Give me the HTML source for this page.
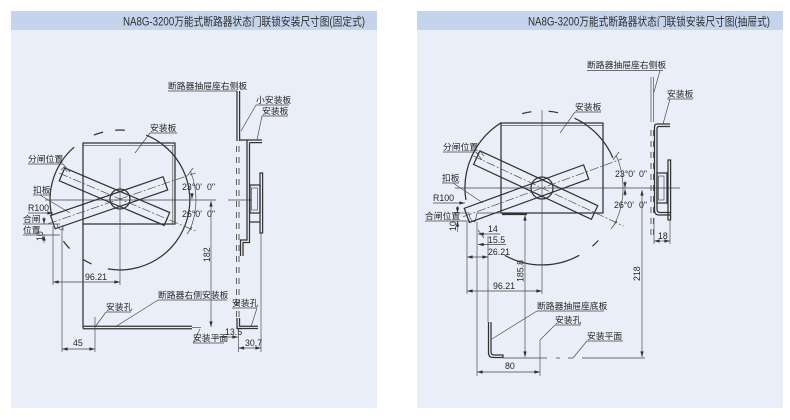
<!DOCTYPE html>
<html><head><meta charset="utf-8">
<style>
html,body{margin:0;padding:0;background:#fff;}
svg{display:block}
.l{stroke:#333;stroke-width:1.25;fill:none}
.b{stroke:#333;stroke-width:1.9;fill:none}
.t{stroke:#444;stroke-width:0.65;fill:none}
.d{stroke:#444;stroke-width:0.65;fill:none;stroke-dasharray:9 2 2 2}
.ds{stroke:#444;stroke-width:0.85;fill:none;stroke-dasharray:6 5}
text{font-family:"Liberation Sans","Noto Sans CJK SC","WenQuanYi Zen Hei",sans-serif;fill:#262626;font-size:8.8px}
.ti{font-size:11.5px;fill:#2e2e2e}
</style></head><body>
<svg width="790" height="420" viewBox="0 0 790 420" xmlns="http://www.w3.org/2000/svg">
<defs><marker id="a" viewBox="0 0 10 6" refX="10" refY="3" markerWidth="6" markerHeight="3.4" markerUnits="userSpaceOnUse" orient="auto-start-reverse"><path d="M0,0L10,3L0,6z" fill="#333"/></marker></defs>

<!-- ================= LEFT PANEL ================= -->
<rect x="11" y="11" width="366" height="397" fill="#e9eef8"/>
<rect x="11" y="11" width="366" height="19" fill="#c4d4ec"/>
<text class="ti" x="123" y="25.5" textLength="242" lengthAdjust="spacingAndGlyphs">NA8G-3200万能式断路器状态门联锁安装尺寸图(固定式)</text>

<!-- square mounting plate -->
<rect x="83" y="143" width="92" height="81" class="l"/>
<line x1="83" y1="145.4" x2="175" y2="145.4" class="t"/>
<line x1="172.8" y1="145.4" x2="172.8" y2="224" class="t"/>
<line x1="83" y1="224" x2="83" y2="328.5" class="l"/>
<line x1="83" y1="326.3" x2="192" y2="326.3" class="l"/>
<line x1="83" y1="328.7" x2="192" y2="328.7" class="l"/>
<line x1="192" y1="327.5" x2="201" y2="327.5" class="t"/>

<!-- big circle arcs -->
<path class="l" d="M146.2,135.1 A70,70 0 0 1 107.8,268.9"/>
<path class="l" d="M51.8,215.7 A70,70 0 0 1 74.1,147.2"/>
<path class="l" d="M93.8,135.1 A70,70 0 0 1 103.1,132.1"/>
<path class="l" d="M115.1,130.2 A70,70 0 0 1 124.9,130.2"/>
<path class="l" d="M69.6,248.6 A70,70 0 0 1 63.4,241.1"/>
<path class="l" d="M91.5,263.9 A70,70 0 0 1 82.9,259.4"/>

<!-- angle dimension arc -->
<path class="t" d="M190.5,171.5 A76,76 0 0 1 189.4,230.9"/>
<line x1="188" y1="175" x2="193" y2="168" class="t"/>
<line x1="187" y1="234" x2="192" y2="227" class="t"/>
<line x1="192" y1="193" x2="192" y2="199" class="t" marker-end="url(#a)"/>

<!-- center lines -->
<line x1="45" y1="200" x2="216" y2="200" class="t"/>
<line x1="228" y1="200" x2="252" y2="200" class="t"/>
<line x1="120" y1="158" x2="120" y2="285" class="t"/>

<!-- blades -->
<g transform="translate(120,199) rotate(23)">
  <rect x="-63" y="-7" width="114" height="14" class="l"/>
  <line x1="-66" y1="0" x2="82" y2="0" class="d"/>
</g>
<g transform="translate(120,199) rotate(-19)">
  <rect x="-71" y="-7" width="119" height="14" class="l"/>
  <line x1="-76" y1="0" x2="80" y2="0" class="d"/>
</g>
<circle cx="120" cy="199" r="10" class="l"/>
<path class="t" d="M57,224 q1,6 6,6 l0,-5"/>
<path class="t" d="M61,170 l3,-3 l3,5"/>

<!-- left labels -->
<text x="28" y="162">分闸位置</text>
<line x1="28" y1="164" x2="63" y2="164" class="t"/>
<line x1="63" y1="164" x2="70" y2="172" class="t"/>
<text x="33" y="193">扣板</text>
<line x1="33" y1="195" x2="51" y2="195" class="t"/>
<line x1="40" y1="195" x2="70" y2="213" class="t"/>
<text x="28" y="211">R100</text>
<line x1="28" y1="213" x2="53" y2="213" class="t" marker-end="url(#a)"/>
<text x="23" y="222">合闸</text>
<text x="23" y="233">位置</text>
<line x1="23" y1="224" x2="60" y2="224" class="t"/>
<line x1="23" y1="235" x2="60" y2="235" class="t"/>
<line x1="44" y1="217" x2="44" y2="224" class="t" marker-end="url(#a)"/>
<line x1="44" y1="243" x2="44" y2="235" class="t" marker-end="url(#a)"/>
<text transform="translate(43,241) rotate(-90)">10</text>

<!-- square label -->
<text x="150" y="131">安装板</text>
<line x1="150" y1="133" x2="177" y2="133" class="t"/>
<line x1="150" y1="133" x2="135" y2="153" class="t"/>

<!-- lower dims left -->
<line x1="53" y1="226" x2="53" y2="285" class="t"/>
<line x1="62" y1="228" x2="62" y2="352" class="t"/>
<line x1="53" y1="282" x2="120" y2="282" class="t" marker-start="url(#a)" marker-end="url(#a)"/>
<text x="85" y="280">96.21</text>
<line x1="95" y1="317" x2="95" y2="352" class="t"/>
<line x1="62" y1="349" x2="95" y2="349" class="t" marker-start="url(#a)" marker-end="url(#a)"/>
<text x="73" y="346">45</text>
<text x="106" y="310">安装孔</text>
<line x1="106" y1="312" x2="131" y2="312" class="t"/>
<line x1="106" y1="312" x2="95" y2="327" class="t"/>
<text x="158" y="298">断路器右侧安装板</text>
<line x1="158" y1="300" x2="227" y2="300" class="t"/>
<line x1="158" y1="300" x2="115" y2="327" class="t"/>
<text x="193" y="341">安装平面</text>
<line x1="193" y1="343" x2="224" y2="343" class="t"/>
<line x1="193" y1="343" x2="200" y2="329" class="t"/>

<!-- 182 -->
<line x1="211" y1="201" x2="211" y2="327" class="t" marker-start="url(#a)" marker-end="url(#a)"/>
<text transform="translate(210,262) rotate(-90)">182</text>

<!-- angle labels -->
<text x="182" y="190">23°0'</text><text x="207" y="190">0"</text>
<text x="182" y="217">26°0'</text><text x="207" y="217">0"</text>

<!-- side view left -->
<text x="168" y="89">断路器抽屉座右侧板</text>
<line x1="168" y1="91" x2="237" y2="91" class="t"/>
<line x1="237" y1="91" x2="237" y2="141" class="l"/>
<line x1="239.6" y1="91" x2="239.6" y2="141" class="l"/>
<line x1="236.5" y1="146" x2="236.5" y2="318" class="ds"/>
<line x1="239" y1="146" x2="239" y2="318" class="ds"/>
<path class="l" d="M240,140 H262 M249.5,142.6 H262"/>
<path class="l" d="M247,140 V240 H240.5 V256 M249.5,142.6 V242.5 H243 V256"/>
<rect x="250" y="185" width="10" height="28" class="l"/>
<rect x="251.5" y="188" width="6" height="22" class="t"/>
<rect x="260" y="173" width="2.6" height="60" class="l"/>
<line x1="249.5" y1="222" x2="260" y2="222" class="l"/>
<text x="256" y="103">小安装板</text>
<line x1="256" y1="105" x2="289" y2="105" class="t"/>
<line x1="256" y1="105" x2="241" y2="131" class="t"/>
<text x="262" y="114">安装板</text>
<line x1="262" y1="116" x2="288" y2="116" class="t"/>
<line x1="262" y1="116" x2="257" y2="140" class="t"/>
<!-- bottom L bracket -->
<path class="l" d="M237,318 V328.5 H258 M239.5,318 V326.2 H258"/>
<text x="232" y="306">安装孔</text>
<line x1="232" y1="308" x2="257" y2="308" class="t"/>
<line x1="257" y1="308" x2="251" y2="327" class="t"/>
<text x="225" y="335">13.5</text>
<line x1="214" y1="337" x2="238" y2="337" class="t" marker-end="url(#a)"/>
<line x1="238.5" y1="330" x2="238.5" y2="352" class="t"/>
<line x1="261" y1="233" x2="261" y2="352" class="t"/>
<line x1="238.5" y1="348" x2="261" y2="348" class="t" marker-start="url(#a)" marker-end="url(#a)"/>
<text x="245" y="346">30.7</text>

<!-- ================= RIGHT PANEL ================= -->
<rect x="417" y="11" width="366" height="397" fill="#e9eef8"/>
<rect x="417" y="11" width="366" height="19" fill="#c4d4ec"/>
<text class="ti" x="528" y="25.5" textLength="242" lengthAdjust="spacingAndGlyphs">NA8G-3200万能式断路器状态门联锁安装尺寸图(抽屉式)</text>

<rect x="501" y="123" width="102" height="90" class="l"/>
<line x1="501" y1="125.4" x2="603" y2="125.4" class="t"/>
<line x1="502" y1="214.2" x2="527" y2="214.2" class="b"/>
<line x1="477" y1="213" x2="502" y2="213" class="t"/>

<!-- big arcs -->
<path class="l" d="M574.5,118.2 A77,77 0 0 1 612.9,157.9"/>
<path class="l" d="M598.3,240.5 A77,77 0 0 1 592.5,246.1"/>
<path class="l" d="M579.3,255.3 A77,77 0 0 1 504.7,255.3"/>
<path class="l" d="M465.9,200 A77,77 0 0 1 501.2,122.7"/>
<path class="l" d="M522.1,113.6 A77,77 0 0 1 531.3,111.7"/>
<path class="l" d="M548.7,111.3 A77,77 0 0 1 558,112.7"/>
<path class="t" d="M616,155.1 A81,81 0 0 1 614.2,224.8"/>
<line x1="613" y1="160" x2="619" y2="152" class="t"/>
<line x1="611" y1="229" x2="617" y2="221" class="t"/>
<line x1="625" y1="181" x2="625" y2="188" class="t" marker-end="url(#a)"/>
<line x1="625" y1="196" x2="625" y2="189" class="t" marker-end="url(#a)"/>

<line x1="455" y1="188" x2="680" y2="188" class="t"/>
<line x1="542" y1="110" x2="542" y2="294" class="t"/>

<g transform="translate(542,188) rotate(25)">
  <rect x="-72" y="-7.5" width="130" height="15" class="l"/>
  <line x1="-76" y1="0" x2="90" y2="0" class="d"/>
</g>
<g transform="translate(542,188) rotate(-20)">
  <rect x="-80" y="-7.5" width="127" height="15" class="l"/>
  <line x1="-84" y1="0" x2="85" y2="0" class="d"/>
</g>
<circle cx="542" cy="188" r="11" class="l"/>
<path class="t" d="M469,214 q1,7 6,8 l2,-9"/>
<path class="t" d="M477,154 l3,-3 l4,5"/>

<text x="575" y="110">安装板</text>
<line x1="575" y1="112" x2="601" y2="112" class="t"/>
<line x1="575" y1="112" x2="560" y2="133" class="t"/>

<text x="443" y="150">分闸位置</text>
<line x1="443" y1="152" x2="476" y2="152" class="t"/>
<line x1="476" y1="152" x2="482" y2="160" class="t"/>
<text x="442" y="181">扣板</text>
<line x1="442" y1="183" x2="459" y2="183" class="t"/>
<line x1="453" y1="183" x2="483" y2="203" class="t"/>
<text x="433" y="201">R100</text>
<line x1="433" y1="203" x2="465" y2="203" class="t" marker-end="url(#a)"/>
<text x="425" y="219">合闸位置</text>
<line x1="425" y1="221" x2="470" y2="221" class="t"/>
<line x1="455" y1="213" x2="470" y2="213" class="t"/>
<line x1="457.5" y1="206" x2="457.5" y2="213" class="t" marker-end="url(#a)"/>
<line x1="457.5" y1="232" x2="457.5" y2="221" class="t" marker-end="url(#a)"/>
<text transform="translate(456,231) rotate(-90)">10</text>

<!-- lower-left dims -->
<line x1="467" y1="222" x2="467" y2="294" class="t"/>
<line x1="477" y1="222" x2="477" y2="376" class="t"/>
<line x1="488" y1="236" x2="488" y2="322" class="t"/>
<line x1="483" y1="234" x2="500" y2="234" class="t"/>
<line x1="485" y1="234" x2="478" y2="234" class="t" marker-end="url(#a)"/>
<line x1="478" y1="230" x2="484" y2="238" class="t"/>
<text x="488" y="232">14</text>
<line x1="483" y1="244.5" x2="506" y2="244.5" class="t"/>
<line x1="485" y1="244.5" x2="478" y2="244.5" class="t" marker-end="url(#a)"/>
<text x="488" y="243">15.5</text>
<line x1="467" y1="257" x2="488" y2="257" class="t" marker-start="url(#a)" marker-end="url(#a)"/>
<text x="488" y="255">26.21</text>
<line x1="467" y1="291" x2="542" y2="291" class="t" marker-start="url(#a)" marker-end="url(#a)"/>
<text x="493" y="289">96.21</text>
<line x1="477" y1="372" x2="540" y2="372" class="t" marker-start="url(#a)" marker-end="url(#a)"/>
<text x="505" y="369">80</text>

<line x1="525" y1="215" x2="525" y2="357" class="t" marker-start="url(#a)" marker-end="url(#a)"/>
<text transform="translate(523.5,282) rotate(-90)">185.8</text>

<!-- L bracket -->
<path class="l" d="M488.5,322 V353 Q488.5,357.5 493,357.5 H503 V355 H494 Q491,355 491,352 V322"/>

<text x="537" y="309">断路器抽屉座底板</text>
<line x1="537" y1="311" x2="604" y2="311" class="t"/>
<line x1="537" y1="311" x2="492" y2="339" class="t"/>
<text x="555" y="323">安装孔</text>
<line x1="555" y1="325" x2="581" y2="325" class="t"/>
<line x1="555" y1="325" x2="540" y2="340" class="t"/>
<line x1="540" y1="340" x2="540" y2="376" class="t"/>
<text x="587" y="339">安装平面</text>
<line x1="587" y1="341" x2="623" y2="341" class="t"/>
<line x1="587" y1="341" x2="573" y2="358" class="t"/>
<path class="t" d="M503,358 H547 M556,358 H560 M568,358 H573 M582,358 H645"/>

<line x1="642" y1="190" x2="642" y2="357" class="t" marker-start="url(#a)" marker-end="url(#a)"/>
<text transform="translate(640,281) rotate(-90)">218</text>

<text x="615" y="177">23°0'</text><text x="639" y="177">0"</text>
<text x="614" y="208">26°0'</text><text x="639" y="208">0"</text>

<!-- side view right -->
<text x="587" y="68">断路器抽屉座右侧板</text>
<line x1="587" y1="70.5" x2="663" y2="70.5" class="t"/>
<line x1="660" y1="70.5" x2="654" y2="92" class="t"/>
<line x1="651" y1="77" x2="651" y2="122" class="t"/>
<line x1="653.5" y1="77" x2="653.5" y2="122" class="t"/>
<line x1="651" y1="130" x2="651" y2="240" class="ds"/>
<line x1="653.5" y1="130" x2="653.5" y2="240" class="ds"/>
<path class="l" d="M670,124 H657 Q654.5,124 654.5,127 V210 Q654.5,215 659,215 H670 M670,126.5 H659 Q657,126.5 657,129 V209 Q657,212.5 660,212.5 H670"/>
<rect x="657" y="173" width="10" height="30" class="l"/>
<rect x="658.5" y="176" width="5.5" height="24" class="t"/>
<rect x="668" y="160" width="2.6" height="60" class="l"/>
<text x="667" y="97">安装板</text>
<line x1="667" y1="99" x2="693" y2="99" class="t"/>
<line x1="670" y1="99" x2="663" y2="124" class="t"/>
<line x1="654" y1="218" x2="654" y2="244" class="t"/>
<line x1="670" y1="221" x2="670" y2="244" class="t"/>
<line x1="654" y1="241" x2="670" y2="241" class="t" marker-start="url(#a)" marker-end="url(#a)"/>
<text x="658" y="239">18</text>
</svg>
</body></html>
